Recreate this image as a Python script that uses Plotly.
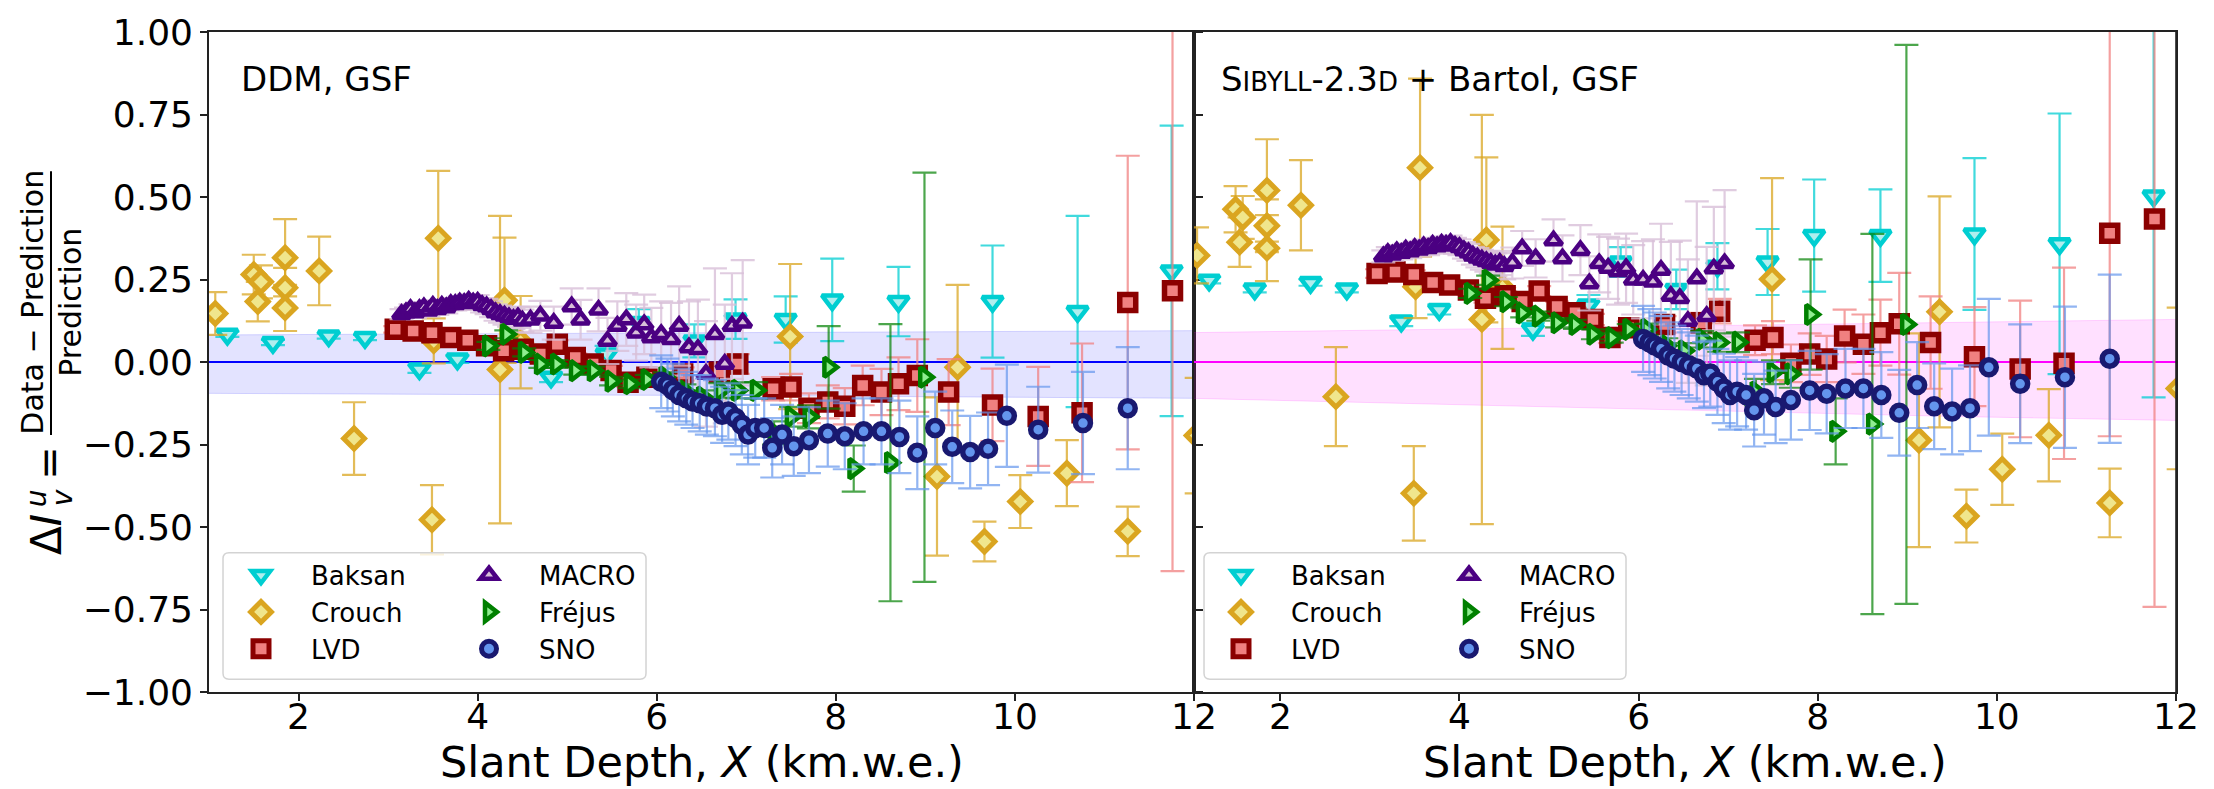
import plotly.graph_objects as go

# ---------------- data ----------------
x_ticks = [2, 4, 6, 8, 10, 12]
y_ticks = [-1.0, -0.75, -0.5, -0.25, 0.0, 0.25, 0.5, 0.75, 1.0]
y_ticktext = ['\u22121.00', '\u22120.75', '\u22120.50', '\u22120.25', '0.00', '0.25', '0.50', '0.75', '1.00']

band_x = [1.0, 4.0, 7.0, 9.5, 12.0]
ddm_band_upper = [0.082, 0.085, 0.088, 0.091, 0.095]
ddm_band_lower = [-0.095, -0.098, -0.102, -0.106, -0.110]
sib_band_upper = [0.089, 0.100, 0.109, 0.120, 0.129]
sib_band_lower = [-0.110, -0.130, -0.150, -0.165, -0.177]
baseline = [0.0, 0.0, 0.0, 0.0, 0.0]

baksan_x = [1.205, 1.714, 2.337, 2.742, 3.35, 3.774, 4.82, 5.44, 5.80, 6.42, 6.88, 7.44, 7.96, 8.70, 9.75, 10.70, 11.75]
baksan_ddm = [0.084, 0.059, 0.079, 0.074, -0.021, 0.009, -0.046, 0.024, 0.12, 0.064, 0.13, 0.129, 0.188, 0.183, 0.183, 0.153, 0.276]
baksan_ddm_err = [0.008, 0.008, 0.008, 0.008, 0.012, 0.012, 0.015, 0.025, 0.04, 0.05, 0.06, 0.07, 0.125, 0.105, 0.17, 0.29, 0.44]
baksan_sib = [0.248, 0.221, 0.241, 0.221, 0.124, 0.159, 0.099, 0.173, 0.303, 0.22, 0.29, 0.303, 0.383, 0.383, 0.388, 0.358, 0.503]
baksan_sib_err = [0.01, 0.01, 0.01, 0.01, 0.015, 0.015, 0.02, 0.03, 0.045, 0.06, 0.07, 0.1, 0.17, 0.14, 0.23, 0.395, 0.61]

crouch_x = [1.07, 1.50, 1.545, 1.58, 1.85, 1.85, 1.85, 2.23, 2.62, 3.49, 3.51, 3.56, 4.25, 4.30, 4.48,
            7.49, 9.13, 9.36, 9.66, 10.06, 10.58, 11.26, 12.03]
crouch_ddm = [0.147, 0.265, 0.183, 0.243, 0.316, 0.225, 0.164, 0.276, -0.232, -0.478, 0.064, 0.375, -0.023, 0.187, 0.06,
              0.077, -0.347, -0.016, -0.544, -0.423, -0.337, -0.513, -0.223]
crouch_ddm_err = [0.065, 0.06, 0.06, 0.05, 0.117, 0.06, 0.07, 0.104, 0.11, 0.105, 0.068, 0.204, 0.466, 0.19, 0.14,
                  0.22, 0.24, 0.25, 0.06, 0.08, 0.1, 0.075, 0.175]
crouch_sib = [0.323, 0.463, 0.363, 0.438, 0.52, 0.413, 0.345, 0.475, -0.105, -0.398, 0.228, 0.589, 0.129, 0.37, 0.225,
              0.251, -0.237, 0.152, -0.467, -0.325, -0.222, -0.427, -0.08]
crouch_sib_err = [0.085, 0.07, 0.075, 0.065, 0.155, 0.08, 0.1, 0.137, 0.15, 0.143, 0.095, 0.27, 0.62, 0.25, 0.185,
                  0.306, 0.324, 0.35, 0.08, 0.108, 0.14, 0.104, 0.245]

lvd_x = [3.08, 3.28, 3.49, 3.70, 3.89, 4.10, 4.29, 4.51, 4.70, 4.89, 5.09, 5.29, 5.49, 5.68, 5.89, 6.29, 6.70, 6.905,
         7.30, 7.50, 7.70, 7.91, 8.10, 8.30, 8.51, 8.70, 8.91, 9.26, 9.75, 10.26, 10.75, 11.26, 11.76]
lvd_ddm = [0.099, 0.094, 0.089, 0.074, 0.066, 0.049, 0.034, 0.039, 0.024, 0.054, 0.014, -0.006, -0.026, -0.061, -0.046,
           -0.036, -0.03, -0.006, -0.081, -0.076, -0.14, -0.121, -0.134, -0.071, -0.091, -0.066, -0.041, -0.091,
           -0.13, -0.165, -0.154, 0.18, 0.216]
lvd_ddm_err = [0.01, 0.01, 0.01, 0.01, 0.01, 0.01, 0.01, 0.01, 0.012, 0.012, 0.012, 0.012, 0.014, 0.014, 0.015, 0.02,
               0.025, 0.03, 0.035, 0.04, 0.045, 0.05, 0.055, 0.06, 0.07, 0.08, 0.11, 0.1, 0.11, 0.15, 0.21, 0.445, 0.85]
lvd_sib = [0.268, 0.273, 0.265, 0.241, 0.233, 0.218, 0.193, 0.201, 0.183, 0.215, 0.168, 0.149, 0.129, 0.074, 0.104,
           0.114, 0.119, 0.154, 0.066, 0.074, -0.004, 0.024, 0.009, 0.079, 0.054, 0.089, 0.116, 0.059, 0.016,
           -0.021, -0.004, 0.39, 0.433]
lvd_sib_err = [0.013, 0.013, 0.013, 0.013, 0.013, 0.013, 0.013, 0.013, 0.015, 0.015, 0.015, 0.015, 0.017, 0.017, 0.019,
               0.025, 0.03, 0.037, 0.045, 0.05, 0.057, 0.063, 0.07, 0.08, 0.09, 0.1, 0.154, 0.14, 0.15, 0.207, 0.29,
               0.615, 1.175]

macro_x = [3.15, 3.20, 3.25, 3.30, 3.35, 3.40, 3.45, 3.50, 3.55, 3.60, 3.65, 3.70, 3.75, 3.80, 3.85, 3.90, 3.95,
           4.00, 4.05, 4.10, 4.15, 4.20, 4.25, 4.30, 4.35, 4.40, 4.45, 4.50,
           4.59, 4.70, 4.85, 5.05, 5.15, 5.35, 5.45, 5.56, 5.66, 5.77, 5.86, 5.94, 6.05, 6.16, 6.25, 6.36, 6.46,
           6.55, 6.65, 6.76, 6.84, 6.96]
macro_ddm = [0.145, 0.150, 0.160, 0.150, 0.160, 0.165, 0.155, 0.170, 0.160, 0.170, 0.165, 0.175, 0.175, 0.180,
             0.178, 0.185, 0.180, 0.182, 0.172, 0.168, 0.160, 0.150, 0.145, 0.140, 0.135, 0.130, 0.135, 0.125,
             0.128, 0.140, 0.118, 0.168, 0.128, 0.158, 0.064, 0.109, 0.129, 0.089, 0.114, 0.074, 0.084, 0.069,
             0.109, 0.044, 0.039, -0.036, 0.084, -0.006, 0.109, 0.119]
macro_ddm_err = [0.015, 0.015, 0.015, 0.016, 0.016, 0.016, 0.017, 0.017, 0.017, 0.018, 0.018, 0.018, 0.019, 0.019,
                 0.02, 0.02, 0.021, 0.021, 0.022, 0.023, 0.024, 0.025, 0.026, 0.027, 0.028, 0.03, 0.032, 0.034,
                 0.04, 0.045, 0.05, 0.055, 0.06, 0.065, 0.07, 0.075, 0.08, 0.085, 0.09, 0.09, 0.1, 0.11, 0.12, 0.14,
                 0.15, 0.16, 0.2, 0.18, 0.16, 0.19]
macro_sib = [0.320, 0.330, 0.325, 0.335, 0.330, 0.340, 0.335, 0.345, 0.340, 0.350, 0.345, 0.355, 0.350, 0.358,
             0.355, 0.360, 0.352, 0.348, 0.338, 0.332, 0.322, 0.316, 0.310, 0.305, 0.300, 0.295, 0.300, 0.290,
             0.300, 0.344, 0.314, 0.368, 0.314, 0.339, 0.238, 0.299, 0.285, 0.274, 0.284, 0.249, 0.249, 0.243,
             0.279, 0.200, 0.193, 0.124, 0.253, 0.139, 0.283, 0.299]
macro_sib_err = [0.018, 0.018, 0.018, 0.019, 0.019, 0.019, 0.02, 0.02, 0.02, 0.021, 0.021, 0.021, 0.022, 0.022,
                 0.023, 0.023, 0.024, 0.024, 0.025, 0.026, 0.027, 0.029, 0.03, 0.031, 0.032, 0.035, 0.037, 0.04,
                 0.047, 0.053, 0.058, 0.064, 0.07, 0.076, 0.082, 0.088, 0.094, 0.1, 0.105, 0.105, 0.117, 0.129,
                 0.14, 0.164, 0.175, 0.187, 0.234, 0.21, 0.187, 0.222]

frejus_x = [4.12, 4.32, 4.52, 4.70, 4.88, 5.09, 5.29, 5.49, 5.70, 5.89, 6.09, 6.31, 6.51, 6.71, 6.90, 7.11, 7.31,
            7.50, 7.70, 7.92, 8.20, 8.61, 8.99]
frejus_ddm = [0.049, 0.084, 0.029, -0.006, -0.006, -0.026, -0.026, -0.058, -0.066, -0.053, -0.046, -0.088, -0.106,
              -0.086, -0.086, -0.086, -0.215, -0.166, -0.166, -0.016, -0.323, -0.305, -0.046]
frejus_ddm_err = [0.012, 0.012, 0.012, 0.012, 0.012, 0.012, 0.012, 0.013, 0.013, 0.014, 0.015, 0.02, 0.02, 0.022,
                  0.024, 0.025, 0.035, 0.03, 0.035, 0.125, 0.07, 0.42, 0.62]
frejus_sib = [0.208, 0.248, 0.183, 0.149, 0.139, 0.119, 0.114, 0.084, 0.074, 0.099, 0.099, 0.049, 0.034, 0.069,
              0.059, 0.06, -0.091, -0.031, -0.036, 0.144, -0.21, -0.188, 0.114]
frejus_sib_err = [0.014, 0.014, 0.014, 0.014, 0.014, 0.014, 0.014, 0.015, 0.015, 0.016, 0.017, 0.023, 0.023, 0.025,
                  0.028, 0.03, 0.04, 0.036, 0.042, 0.167, 0.1, 0.576, 0.847]

sno_x = [6.05, 6.12, 6.18, 6.25, 6.33, 6.40, 6.48, 6.56, 6.65, 6.73, 6.80, 6.88, 6.95, 7.02, 7.10, 7.20, 7.29, 7.40,
         7.53, 7.70, 7.91, 8.10, 8.31, 8.51, 8.71, 8.91, 9.11, 9.30, 9.50, 9.70, 9.91, 10.26, 10.76, 11.26]
sno_ddm = [-0.06, -0.07, -0.085, -0.10, -0.11, -0.12, -0.125, -0.135, -0.14, -0.16, -0.15, -0.17, -0.19, -0.22,
           -0.20, -0.20, -0.26, -0.22, -0.255, -0.237, -0.217, -0.225, -0.21, -0.21, -0.227, -0.275, -0.20, -0.257,
           -0.273, -0.263, -0.163, -0.205, -0.185, -0.14]
sno_ddm_err = [0.08, 0.08, 0.08, 0.08, 0.08, 0.08, 0.085, 0.085, 0.085, 0.085, 0.085, 0.085, 0.09, 0.09, 0.09, 0.09,
               0.09, 0.09, 0.09, 0.1, 0.1, 0.1, 0.1, 0.1, 0.11, 0.11, 0.11, 0.11, 0.11, 0.11, 0.155, 0.13, 0.155, 0.185]
sno_sib = [0.07, 0.06, 0.05, 0.04, 0.02, 0.01, 0.0, -0.01, -0.02, -0.04, -0.035, -0.06, -0.08, -0.10, -0.09, -0.10,
           -0.146, -0.11, -0.136, -0.115, -0.086, -0.096, -0.08, -0.08, -0.10, -0.154, -0.07, -0.134, -0.15, -0.14,
           -0.016, -0.066, -0.046, 0.01]
sno_sib_err = [0.1, 0.1, 0.1, 0.1, 0.1, 0.1, 0.1, 0.1, 0.1, 0.1, 0.1, 0.1, 0.105, 0.105, 0.105, 0.105, 0.11, 0.11,
               0.11, 0.12, 0.12, 0.12, 0.12, 0.12, 0.13, 0.13, 0.13, 0.13, 0.13, 0.13, 0.207, 0.18, 0.214, 0.255]

# ---------------- layout geometry ----------------
W, H = 2214, 789
ML, MR, MT, MB = 209, 38, 24, 97
PW, PH = W - ML - MR, H - MT - MB
SPLIT = (1194 - ML) / PW
FONT = 'DejaVu Sans'


def pxx(p):
    return (p - ML) / PW


def pxy(p):
    return (H - MB - p) / PH


experiments = [
    dict(name='Baksan', x=baksan_x, vals=(baksan_ddm, baksan_sib), errs=(baksan_ddm_err, baksan_sib_err),
         symbol='triangle-down', size=18, lw=4.5, edge='#00CED1', face='#AFEEEE', err='rgba(0,206,209,0.75)', col=0),
    dict(name='Crouch', x=crouch_x, vals=(crouch_ddm, crouch_sib), errs=(crouch_ddm_err, crouch_sib_err),
         symbol='diamond', size=16, lw=5, edge='#DAA520', face='#F0E68C', err='rgba(218,165,32,0.75)', col=0),
    dict(name='LVD', x=lvd_x, vals=(lvd_ddm, lvd_sib), errs=(lvd_ddm_err, lvd_sib_err),
         symbol='square', size=16, lw=5.5, edge='#8B0000', face='#F08080', err='rgba(240,128,128,0.75)', col=0),
    dict(name='MACRO', x=macro_x, vals=(macro_ddm, macro_sib), errs=(macro_ddm_err, macro_sib_err),
         symbol='triangle-up', size=15, lw=4.5, edge='#4B0082', face='#D8BFD8', err='rgba(216,191,216,0.8)', col=1),
    dict(name='Fréjus', x=frejus_x, vals=(frejus_ddm, frejus_sib), errs=(frejus_ddm_err, frejus_sib_err),
         symbol='triangle-right', size=17, lw=4.5, edge='#008000', face='#90EE90', err='rgba(0,128,0,0.7)', col=1),
    dict(name='SNO', x=sno_x, vals=(sno_ddm, sno_sib), errs=(sno_ddm_err, sno_sib_err),
         symbol='circle', size=15, lw=5.5, edge='#191970', face='#6495ED', err='rgba(100,149,237,0.7)', col=1),
]

panels = [
    dict(xaxis='x', uppers=ddm_band_upper, lowers=ddm_band_lower, fill='rgba(0,0,255,0.11)',
         edge='rgba(0,0,255,0.15)', zero='#0000FF', legends=('legend', 'legend2')),
    dict(xaxis='x2', uppers=sib_band_upper, lowers=sib_band_lower, fill='rgba(255,0,255,0.12)',
         edge='rgba(255,0,255,0.15)', zero='#FF00FF', legends=('legend3', 'legend4')),
]

fig = go.Figure()
for pi, pan in enumerate(panels):
    fig.add_trace(go.Scatter(x=band_x, y=pan['lowers'], mode='lines', line=dict(color=pan['edge'], width=1),
                             xaxis=pan['xaxis'], yaxis='y', showlegend=False, hoverinfo='skip'))
    fig.add_trace(go.Scatter(x=band_x, y=pan['uppers'], mode='lines', line=dict(color=pan['edge'], width=1),
                             fill='tonexty', fillcolor=pan['fill'],
                             xaxis=pan['xaxis'], yaxis='y', showlegend=False, hoverinfo='skip'))
    fig.add_trace(go.Scatter(x=band_x, y=baseline, mode='lines', line=dict(color=pan['zero'], width=2),
                             xaxis=pan['xaxis'], yaxis='y', showlegend=False, hoverinfo='skip'))
    for ex in experiments:
        fig.add_trace(go.Scatter(
            x=ex['x'], y=ex['vals'][pi], mode='markers', name=ex['name'],
            marker=dict(symbol=ex['symbol'], size=ex['size'], color=ex['face'],
                        line=dict(color=ex['edge'], width=ex['lw'])),
            error_y=dict(type='data', array=ex['errs'][pi], color=ex['err'], thickness=2.2, width=12),
            xaxis=pan['xaxis'], yaxis='y', legend=pan['legends'][ex['col']],
            legendgroup=ex['name'] + str(pi),
        ))

axis_common = dict(showline=True, linecolor='#222222', linewidth=1.6, ticks='outside', ticklen=7,
                   tickwidth=1.6, tickcolor='#222222', showgrid=False, zeroline=False,
                   tickfont=dict(family=FONT, size=36, color='black'))

legend_common = dict(xanchor='left', yanchor='top', bgcolor='rgba(0,0,0,0)', borderwidth=0,
                     font=dict(family=FONT, size=26, color='black'), itemwidth=90, tracegroupgap=3,
                     traceorder='normal', orientation='v')

LEG_TOP = 550
fig.update_layout(
    width=W, height=H, margin=dict(l=ML, r=MR, t=MT, b=MB),
    paper_bgcolor='white', plot_bgcolor='white',
    font=dict(family=FONT, color='black'),
    xaxis=dict(domain=[0, SPLIT], range=[1, 12], tickvals=x_ticks, anchor='y', mirror=True,
               ticklabelstandoff=-15, **axis_common),
    xaxis2=dict(domain=[SPLIT, 1], range=[1.036, 12], tickvals=x_ticks, anchor='y', mirror=True,
                ticklabelstandoff=-15, **axis_common),
    yaxis=dict(domain=[0, 1], range=[-1, 1], tickvals=y_ticks, ticktext=y_ticktext, anchor='x', mirror='all',
               **axis_common),
    legend=dict(x=pxx(211), y=pxy(LEG_TOP), **legend_common),
    legend2=dict(x=pxx(439), y=pxy(LEG_TOP), **legend_common),
    legend3=dict(x=pxx(1191), y=pxy(LEG_TOP), **legend_common),
    legend4=dict(x=pxx(1419), y=pxy(LEG_TOP), **legend_common),
)


def rrect(x0, y0, x1, y1, r):
    # rounded rectangle path given pixel coordinates, converted to paper coords
    def P(a, b):
        return f'{pxx(a):.5f},{pxy(b):.5f}'
    return (f'M {P(x0 + r, y0)} L {P(x1 - r, y0)} Q {P(x1, y0)} {P(x1, y0 + r)} '
            f'L {P(x1, y1 - r)} Q {P(x1, y1)} {P(x1 - r, y1)} L {P(x0 + r, y1)} '
            f'Q {P(x0, y1)} {P(x0, y1 - r)} L {P(x0, y0 + r)} Q {P(x0, y0)} {P(x0 + r, y0)} Z')


shapes = [
    dict(type='line', xref='paper', yref='paper', x0=1, x1=1, y0=0, y1=1, line=dict(color='#222222', width=1.6)),
    dict(type='path', xref='paper', yref='paper', path=rrect(223, 551, 646, 679, 6),
         fillcolor='rgba(255,255,255,0.8)', line=dict(color='#d3d3d3', width=1.5), layer='above'),
    dict(type='path', xref='paper', yref='paper', path=rrect(1204, 551, 1626, 679, 6),
         fillcolor='rgba(255,255,255,0.8)', line=dict(color='#d3d3d3', width=1.5), layer='above'),
    # fraction bar of the y-axis label
    dict(type='line', xref='paper', yref='paper', x0=pxx(51), x1=pxx(51), y0=pxy(165), y1=pxy(432),
         line=dict(color='black', width=2)),
]
fig.update_layout(shapes=shapes)

ann = []
title_txt = 'Slant Depth, <i>X</i> (km.w.e.)'
for cx in (pxx((209 + 1194) / 2), pxx((1194 + 2176) / 2)):
    ann.append(dict(text=title_txt, x=cx, y=pxy(762.5), xref='paper', yref='paper', showarrow=False,
                    xanchor='center', yanchor='middle', font=dict(family=FONT, size=43, color='black')))
ann.append(dict(text='DDM, GSF', x=pxx(239), y=pxy(72), xref='paper', yref='paper', showarrow=False,
                xanchor='left', yanchor='middle', font=dict(family=FONT, size=34, color='black')))
ann.append(dict(text="S<span style='font-size:26px'>IBYLL</span>-2.3<span style='font-size:26px'>D</span> + Bartol, GSF",
                x=pxx(1219), y=pxy(72), xref='paper', yref='paper', showarrow=False,
                xanchor='left', yanchor='middle', font=dict(family=FONT, size=34, color='black')))
# y-axis label pieces (rotated)
ylab = [
    ('Data \u2212 Prediction', 33, 298, 30),
    ('Prediction', 71, 298, 30),
    ('=', 49, 460, 40),
    ('<i>u</i>', 36, 496, 28),
    ('<i>v</i>', 62, 496, 28),
    ('\u0394<i>I</i>', 47, 533, 42),
]
for txt, xx, yy, fs in ylab:
    ann.append(dict(text=txt, x=pxx(xx), y=pxy(yy), xref='paper', yref='paper', showarrow=False,
                    textangle=-90, xanchor='center', yanchor='middle',
                    font=dict(family=FONT, size=fs, color='black')))
fig.update_layout(annotations=ann)

fig.write_html('out.html')
